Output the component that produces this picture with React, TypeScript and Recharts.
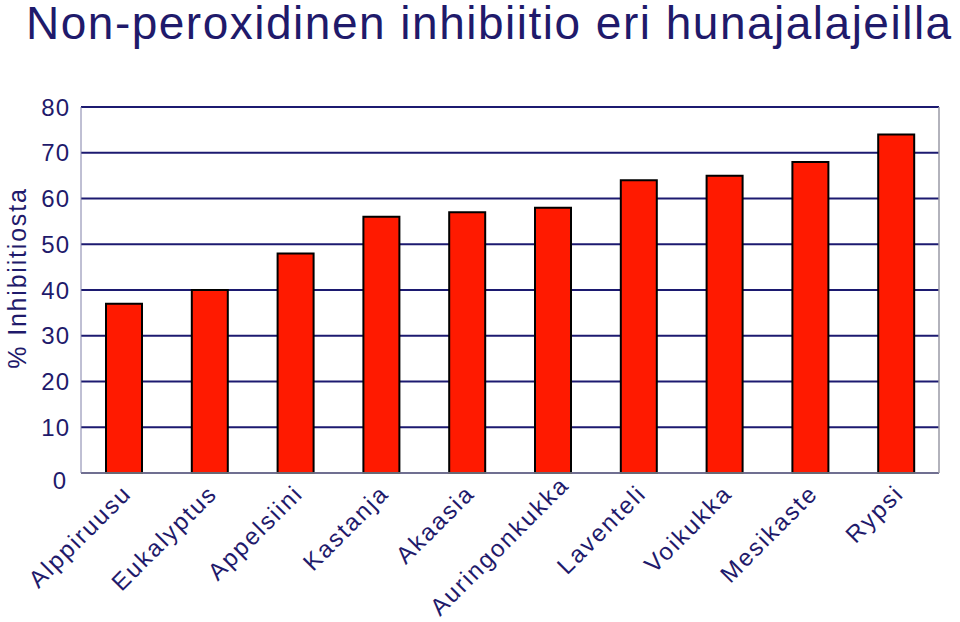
import React from 'react';
import { BarChart, Bar, XAxis, YAxis, CartesianGrid } from 'recharts';

const honeyTypes = [
  'Alppiruusu',
  'Eukalyptus',
  'Appelsiini',
  'Kastanja',
  'Akaasia',
  'Auringonkukka',
  'Laventeli',
  'Voikukka',
  'Mesikaste',
  'Rypsi',
];
const inhibition = [37, 40, 48, 56, 57, 58, 64, 65, 68, 74];
const yTicks = [0, 10, 20, 30, 40, 50, 60, 70, 80];

const data = honeyTypes.map((name, i) => ({ name, value: inhibition[i] }));

const NAVY = '#1f1a6b';
const FONT = 'Arial, "Liberation Sans", Helvetica, sans-serif';
const X_FONT_SIZE = 24;
const X_SPACING = 2;

// rough text width so long labels can be nudged up like the original does
let measureCtx: CanvasRenderingContext2D | null = null;
const labelWidth = (s: string) => {
  if (!measureCtx) measureCtx = document.createElement('canvas').getContext('2d');
  if (!measureCtx) return s.length * 12;
  measureCtx.font = `${X_FONT_SIZE}px ${FONT}`;
  return measureCtx.measureText(s).width + s.length * X_SPACING;
};

const XTick = (props: any) => {
  const { x, y, payload } = props;
  const w = labelWidth(payload.value);
  const ax = x + 9;
  const ay = y + 22;
  // keep the lower end of the label inside the picture
  const bottom = ay + w * 0.707 + 5;
  const shift = Math.max(0, bottom - 622);
  return (
    <g transform={`translate(${ax + shift},${ay - shift})`}>
      <text
        x={0}
        y={0}
        textAnchor="end"
        transform="rotate(-45)"
        fill={NAVY}
        fontSize={X_FONT_SIZE}
        letterSpacing={X_SPACING}
        fontFamily={FONT}
      >
        {payload.value}
      </text>
    </g>
  );
};

const YTick = (props: any) => {
  const { x, y, payload } = props;
  const isZero = payload.value === 0;
  return (
    <text
      x={isZero ? x - 3 : x}
      y={isZero ? y + 7 : y}
      dy={8.5}
      textAnchor="end"
      fill={NAVY}
      fontSize={24}
      letterSpacing={1}
      fontFamily={FONT}
    >
      {payload.value}
    </text>
  );
};

export default function App() {
  return (
    <div style={{ position: 'absolute', left: 0, top: 0, width: 960, height: 622, background: '#fff' }}>
      <div
        style={{
          position: 'absolute',
          left: 26,
          top: 4,
          fontFamily: FONT,
          fontSize: 46,
          lineHeight: '38px',
          letterSpacing: 1.5,
          color: NAVY,
          whiteSpace: 'nowrap',
        }}
      >
        Non-peroxidinen inhibiitio eri hunajalajeilla
      </div>
      <div
        style={{
          position: 'absolute',
          left: 17,
          top: 278,
          transform: 'translate(-50%, -50%) rotate(-90deg)',
          fontFamily: FONT,
          fontSize: 25,
          lineHeight: '25px',
          letterSpacing: 1.8,
          color: NAVY,
          whiteSpace: 'nowrap',
        }}
      >
        % Inhibiitiosta
      </div>
      <BarChart
        width={960}
        height={622}
        data={data}
        margin={{ top: 107, right: 20, bottom: 0, left: 0 }}
        barSize={36}
      >
        <CartesianGrid vertical={false} stroke="#1c1a70" strokeWidth={2} />
        <XAxis
          dataKey="name"
          height={149}
          interval={0}
          tickLine={false}
          tickSize={0}
          tickMargin={0}
          axisLine={{ stroke: '#8c8c9c', strokeWidth: 1.5 }}
          tick={<XTick />}
        />
        <YAxis
          domain={[0, 80]}
          ticks={yTicks}
          width={81}
          tickLine={false}
          tickSize={0}
          tickMargin={11}
          axisLine={{ stroke: '#8080a8', strokeWidth: 1 }}
          tick={<YTick />}
        />
        <YAxis
          yAxisId="frame"
          orientation="right"
          domain={[0, 80]}
          width={1}
          tick={false}
          tickLine={false}
          axisLine={{ stroke: '#9a9aa6', strokeWidth: 1.5 }}
        />
        <Bar
          dataKey="value"
          fill="#ff1a00"
          stroke="#000"
          strokeWidth={2}
          isAnimationActive={false}
        />
      </BarChart>
    </div>
  );
}
